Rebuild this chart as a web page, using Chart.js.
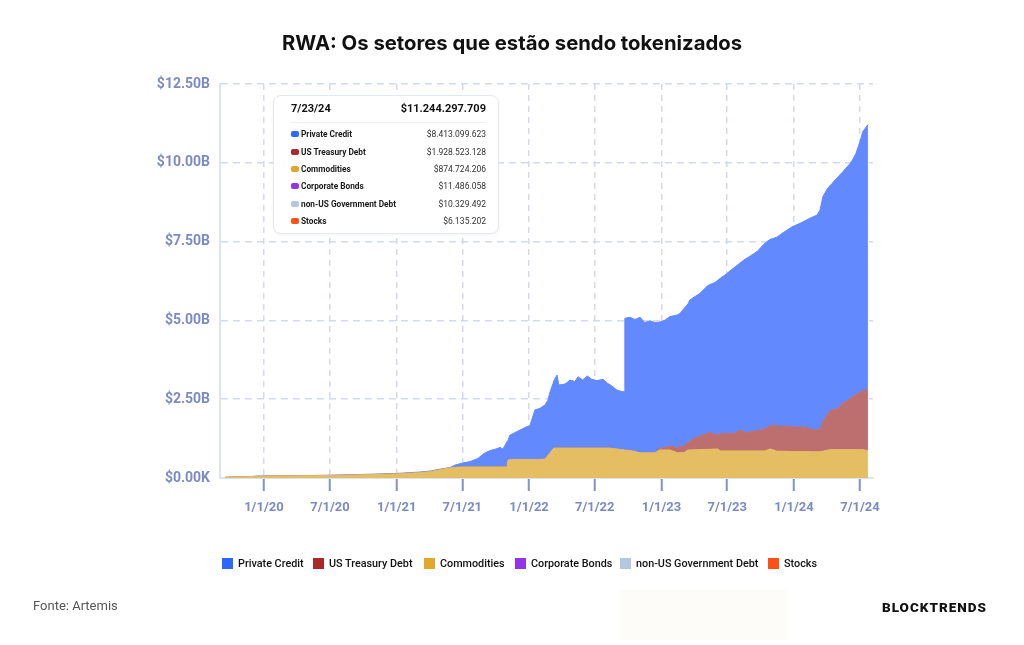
<!DOCTYPE html>
<html><head><meta charset="utf-8">
<script src="https://cdn.jsdelivr.net/npm/chart.js@4.4.1/dist/chart.umd.min.js"></script>
<style>
html,body{margin:0;padding:0;background:#fff;width:1024px;height:645px;overflow:hidden;}
#wrap{position:relative;width:1024px;height:645px;font-family:Roboto,"Noto Sans",sans-serif;}
#c{position:absolute;left:0;top:0;}
#title{position:absolute;left:0;top:29px;width:1024px;text-align:center;font:700 20.3px Inter,sans-serif;color:#111;line-height:28px;}
#tip{position:absolute;left:273px;top:95px;width:226px;height:139px;background:#fff;border:1px solid #e4e8f0;border-radius:8px;box-shadow:0 1px 3px rgba(0,0,0,0.05);box-sizing:border-box;z-index:5;}
#tip .hd{position:absolute;left:17px;right:12px;top:6px;height:16px;font:700 11px Roboto,sans-serif;color:#111;}
#tip .hd .v{position:absolute;right:0;top:0;}
#tip .sep{position:absolute;left:17px;right:12px;top:26px;height:1px;background:#eceff5;}
#tip .row{position:absolute;left:17px;right:12px;height:12px;font:700 8.3px Roboto,sans-serif;color:#1a1a1a;line-height:12px;}
#tip .row .sw{position:absolute;left:0;top:3px;width:8px;height:6px;border-radius:2px;}
#tip .row .lb{position:absolute;left:10px;top:0;}
#tip .row .v{position:absolute;right:0;top:0;font-weight:400;color:#333;font-size:8.5px;}
.lg{position:absolute;top:557px;height:13px;font:500 10.8px Roboto,sans-serif;color:#111;line-height:13px;white-space:nowrap;}
.lg .sw{position:absolute;left:0;top:1px;width:11px;height:11px;}
.lg .t{position:absolute;left:16px;top:0;}
#src{position:absolute;left:33px;top:598px;font:400 13px Roboto,sans-serif;color:#555;}
#brand{position:absolute;left:882px;top:599px;font:900 13.5px Roboto,sans-serif;color:#111;letter-spacing:1px;}
#faint{position:absolute;left:620px;top:590px;width:167px;height:50px;background:#fdfcf9;}
</style></head><body>
<div id="wrap">
<canvas id="c" width="1024" height="645"></canvas>
<div id="title">RWA: Os setores que estão sendo tokenizados</div>
<div id="tip"></div>
<div id="legend"></div>
<div id="faint"></div>
<div id="src">Fonte: Artemis</div>
<div id="brand">BLOCKTRENDS</div>
</div>
<script>
// ---- data (billions USD) ----
const dates = ['2019-09-16','2020-01-01','2020-04-09','2020-07-04','2020-10-03','2021-01-02','2021-03-06','2021-04-03','2021-04-30','2021-05-28',
'2021-06-11','2021-06-30','2021-07-22','2021-08-13','2021-08-30','2021-09-15','2021-09-29','2021-10-13','2021-10-21','2021-11-01',
'2021-11-04','2021-11-09','2021-11-23','2021-12-07','2021-12-26','2022-01-03','2022-01-17','2022-01-31','2022-02-14','2022-02-22',
'2022-02-28','2022-03-08','2022-03-11','2022-03-19','2022-03-24','2022-04-10','2022-04-24','2022-05-07','2022-05-16','2022-05-29',
'2022-06-10','2022-06-23','2022-07-07','2022-07-24','2022-08-06','2022-08-12','2022-08-17','2022-08-31','2022-09-14','2022-09-20',
'2022-09-22','2022-10-06','2022-10-20','2022-11-03','2022-11-16','2022-11-30','2022-12-14','2022-12-28','2023-01-11','2023-01-24',
'2023-02-13','2023-02-21','2023-03-04','2023-03-15','2023-03-20','2023-04-12','2023-04-17','2023-05-09','2023-05-15','2023-05-28',
'2023-06-06','2023-06-11','2023-06-17','2023-06-25','2023-07-23','2023-08-03','2023-08-19','2023-08-25','2023-09-21','2023-10-13',
'2023-10-27','2023-11-04','2023-11-15','2023-11-29','2023-12-27','2024-01-18','2024-02-06','2024-02-14','2024-02-23','2024-03-05',
'2024-03-13','2024-03-21','2024-04-01','2024-04-09','2024-04-15','2024-04-23','2024-04-29','2024-05-15','2024-06-04','2024-06-12',
'2024-06-20','2024-07-01','2024-07-09','2024-07-23'];

const commodities = [0.02,0.06,0.07,0.08,0.10,0.13,0.17,0.20,0.26,0.32,
0.34,0.35,0.35,0.35,0.35,0.35,0.35,0.35,0.35,0.35,
0.57,0.58,0.59,0.59,0.59,0.59,0.59,0.59,0.60,0.72,
0.80,0.92,0.95,0.95,0.95,0.95,0.95,0.95,0.95,0.95,
0.95,0.95,0.95,0.95,0.95,0.95,0.94,0.92,0.90,0.89,
0.89,0.87,0.84,0.80,0.80,0.80,0.80,0.89,0.89,0.89,
0.80,0.80,0.80,0.89,0.89,0.90,0.90,0.91,0.91,0.92,
0.92,0.86,0.86,0.86,0.86,0.86,0.86,0.86,0.86,0.86,
0.92,0.90,0.85,0.85,0.84,0.84,0.84,0.83,0.83,0.83,
0.83,0.85,0.88,0.90,0.90,0.90,0.90,0.90,0.90,0.90,
0.90,0.90,0.90,0.87];

const usTreasury = [0,0,0,0,0,0,0,0,0,0,
0,0,0,0,0,0,0,0,0,0,
0,0,0,0,0,0,0,0,0,0,
0,0,0,0,0,0,0,0,0,0,
0,0,0,0,0,0,0,0,0,0,
0,0,0,0,0,0,0.01,0.05,0.08,0.12,
0.17,0.19,0.22,0.24,0.28,0.41,0.43,0.51,0.53,0.47,
0.44,0.53,0.56,0.56,0.56,0.66,0.60,0.58,0.64,0.70,
0.74,0.78,0.80,0.80,0.79,0.78,0.77,0.74,0.69,0.70,
0.72,0.94,1.12,1.22,1.28,1.28,1.28,1.47,1.62,1.68,
1.74,1.82,1.88,1.93];

const privateCredit = [0.00,0.005,0.005,0.01,0.015,0.015,0.02,0.02,0.02,0.01,
0.07,0.12,0.17,0.27,0.43,0.52,0.56,0.62,0.57,0.80,
0.63,0.78,0.85,0.93,1.04,1.06,1.57,1.62,1.72,1.75,
1.94,2.08,2.15,2.32,2.00,2.03,2.16,2.11,2.26,2.16,
2.29,2.18,2.14,2.18,2.05,2.01,1.98,1.87,1.84,1.85,
4.18,4.23,4.19,4.30,4.13,4.19,4.12,4.01,4.04,4.11,
4.20,4.23,4.36,4.39,4.48,4.51,4.53,4.69,4.70,4.81,
4.92,4.94,4.96,5.02,5.28,5.28,5.48,5.54,5.68,5.89,
5.91,5.92,5.99,6.11,6.34,6.46,6.58,6.67,6.77,6.81,
6.95,7.14,7.15,7.15,7.16,7.27,7.34,7.35,7.46,7.54,
7.66,7.95,8.21,8.41];

const minorDates = ['2023-01-01','2023-07-01','2024-01-01','2024-07-23'];
const corporateBonds = [0.004,0.006,0.009,0.0115];
const nonUSGovDebt = [0.000,0.003,0.008,0.0103];
const stocks = [0.002,0.004,0.005,0.0061];

const tickDates = ['2020-01-01','2020-07-01','2021-01-01','2021-07-01','2022-01-01','2022-07-01','2023-01-01','2023-07-01','2024-01-01','2024-07-01'];
const tickLabels = ['1/1/20','7/1/20','1/1/21','7/1/21','1/1/22','7/1/22','1/1/23','7/1/23','1/1/24','7/1/24'];
const yTickValues = [0,2.5,5,7.5,10,12.5];
const yTickLabels = ['$0.00K','$2.50B','$5.00B','$7.50B','$10.00B','$12.50B'];

const tipDate = '7/23/24';
const tipTotal = '$11.244.297.709';
const seriesNames = ['Private Credit','US Treasury Debt','Commodities','Corporate Bonds','non-US Government Debt','Stocks'];
const tipValues = ['$8.413.099.623','$1.928.523.128','$874.724.206','$11.486.058','$10.329.492','$6.135.202'];
const legendColors = ['#2f66ff','#a82a2a','#e0a82c','#9333ea','#b4c6e0','#ff5016'];

// ---- helpers ----
const ts = s => { const p = s.split('-').map(Number); return Date.UTC(p[0], p[1]-1, p[2]); };
const pts = (arr, ds) => arr.map((v,i)=>({x: ts(ds[i]), y: v}));

const area = (label, data, color, fill, stack) => ({
  label, data, backgroundColor: color, borderColor: color, borderWidth: 1,
  fill, stack, pointRadius: 0, pointHoverRadius: 0, tension: 0
});

const gridColor = 'rgba(204,212,232,0.85)';
const tickTextColor = '#7c8bc3';

new Chart(document.getElementById('c').getContext('2d'), {
  type: 'line',
  data: { datasets: [
    area('Commodities', pts(commodities, dates), '#e5bd63', 'origin', 'main'),
    area('US Treasury Debt', pts(usTreasury, dates), '#bd6e6e', '-1', 'main'),
    area('Private Credit', pts(privateCredit, dates), '#6389ff', '-1', 'main'),
    area('Corporate Bonds', pts(corporateBonds, minorDates), '#9333ea', 'origin', 'minor'),
    area('non-US Government Debt', pts(nonUSGovDebt, minorDates), '#b4c6e0', 'origin', 'minor2'),
    area('Stocks', pts(stocks, minorDates), '#ff5016', 'origin', 'minor3')
  ]},
  options: {
    responsive: false, animation: false, devicePixelRatio: 1,
    layout: { padding: { top: 84, right: 151, left: 0, bottom: 0 } },
    plugins: { legend: { display: false }, tooltip: { enabled: false } },
    scales: {
      x: {
        type: 'linear', z: 1,
        min: ts('2019-09-02'), max: ts('2024-08-06'),
        afterBuildTicks: s => { s.ticks = tickDates.map(d => ({ value: ts(d) })); },
        afterFit: s => { s.height = 167; },
        ticks: { autoSkip: false, maxRotation: 0, padding: 9, color: tickTextColor,
          font: { family: 'Roboto', weight: 'bold', size: 13 },
          callback: (v, i) => tickLabels[i] },
        grid: { color: gridColor, lineWidth: 1.5, tickColor: '#8391c7', tickLength: 13, tickWidth: 2 },
        border: { display: true, color: '#dce2ee', width: 2, dash: [6, 5] }
      },
      y: {
        stacked: true, z: 1, min: 0, max: 12.5,
        afterBuildTicks: s => { s.ticks = yTickValues.map(v => ({ value: v })); },
        afterFit: s => { s.width = 220; },
        ticks: { padding: 10, color: tickTextColor,
          font: { family: 'Roboto', weight: 'bold', size: 14 },
          callback: (v, i) => yTickLabels[i] },
        grid: { color: gridColor, lineWidth: 1.5, drawTicks: false },
        border: { display: true, color: '#dce2ee', width: 2, dash: [7, 5] }
      }
    }
  }
});

// ---- tooltip box (static) ----
const tip = document.getElementById('tip');
let h = '<div class="hd">' + tipDate + '<span class="v">' + tipTotal + '</span></div><div class="sep"></div>';
const rowTops = [32, 49.5, 67, 84, 101.5, 119];
seriesNames.forEach((n, i) => {
  h += '<div class="row" style="top:' + rowTops[i] + 'px"><span class="sw" style="background:' + legendColors[i] + '"></span><span class="lb">' + n + '</span><span class="v">' + tipValues[i] + '</span></div>';
});
tip.innerHTML = h;

// ---- legend ----
const legendX = [222, 313, 424, 515, 620, 768];
const lg = document.getElementById('legend');
let lh = '';
seriesNames.forEach((n, i) => {
  lh += '<div class="lg" style="left:' + legendX[i] + 'px"><span class="sw" style="background:' + legendColors[i] + '"></span><span class="t">' + n + '</span></div>';
});
lg.innerHTML = lh;
</script>
</body></html>
